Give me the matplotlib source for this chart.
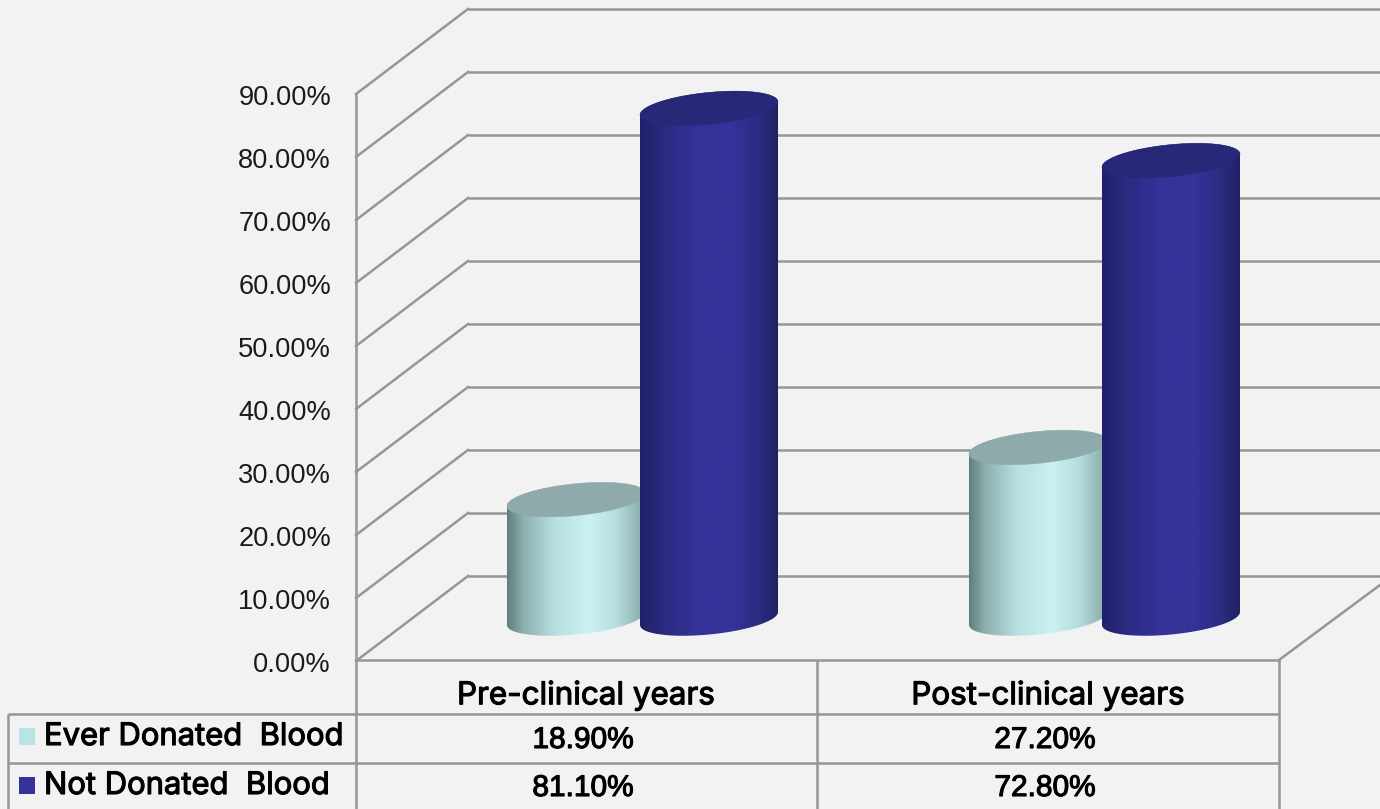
import numpy as np
import matplotlib
matplotlib.use("Agg")
import matplotlib.pyplot as plt
import matplotlib.patheffects as pe
from matplotlib.colors import LinearSegmentedColormap
from matplotlib.patches import Polygon

plt.rcParams['font.family'] = ['Liberation Sans', 'DejaVu Sans']

categories = ["Pre-clinical years", "Post-clinical years"]
series_names = ["Ever Donated  Blood", "Not Donated  Blood"]
ever_donated = [18.9, 27.2]
not_donated = [81.1, 72.8]
tick_values = [0, 10, 20, 30, 40, 50, 60, 70, 80, 90]

BG = "#f2f2f2"
LINE = "#969696"
W, H = 1380, 809
PX_PER_VAL = 6.29
BASE_Y = 618.5  # pixel row of value 0 at the cylinder base centre

fig = plt.figure(figsize=(W / 100, H / 100), dpi=100, facecolor=BG)

# pixel axes for walls, table and text
ax = fig.add_axes([0, 0, 1, 1], zorder=1)
ax.set_xlim(0, W)
ax.set_ylim(H, 0)
ax.axis("off")

# value axes for cylinders: y in data percent
bx = fig.add_axes([0, 0, 1, 1], zorder=2)
bx.set_xlim(0, W)
bx.set_ylim((BASE_Y - H) / PX_PER_VAL, BASE_Y / PX_PER_VAL)
bx.axis("off")
bx.patch.set_alpha(0)

# walls
lw = 1.8
back_x, side_x = 468, 356
back0, side0, step = 576, 660, 63
for v in tick_values:
    d = v / 10 * step
    ax.plot([back_x, W], [back0 - d, back0 - d], color=LINE, lw=lw, solid_capstyle="butt")
    ax.plot([side_x, back_x], [side0 - d + 1, back0 - d], color=LINE, lw=lw)
    ax.text(331, side0 - d + 5, f"{v:.2f}%", ha="right", va="center", fontsize=19.6, color="#1a1a1a")
ax.plot([side_x, side_x], [side0 - 90 / 10 * step + 1, H], color=LINE, lw=lw, solid_capstyle="butt")
ax.plot([side_x, 1279], [660, 660], color=LINE, lw=lw)
ax.plot([1279, W], [660, 585], color=LINE, lw=lw)

# data table
for x in (817, 1279):
    ax.plot([x, x], [660, H], color=LINE, lw=lw, solid_capstyle="butt")
ax.plot([8, 8], [714, H], color=LINE, lw=lw, solid_capstyle="butt")
for y in (714, 763):
    ax.plot([8, 1279], [y, y], color=LINE, lw=lw, solid_capstyle="butt")

stroke = [pe.withStroke(linewidth=0.8, foreground="black")]
label_font = ['Inter', 'Liberation Sans']
cell_x = [586, 1048]
for cx, cat, a, b in zip(cell_x, categories, ever_donated, not_donated):
    ax.text(cx, 696, cat, ha="center", va="center", fontsize=22.6, color="black",
            family=label_font, path_effects=stroke)
    ax.text(cx - 3, 740, f"{a:.2f}%", ha="center", va="center", fontsize=21.5, color="black", path_effects=stroke)
    ax.text(cx - 3, 788, f"{b:.2f}%", ha="center", va="center", fontsize=21.5, color="black", path_effects=stroke)
ax.text(44, 737, series_names[0], ha="left", va="center", fontsize=22.3, color="black",
        family=label_font, path_effects=stroke)
ax.text(44, 786, series_names[1], ha="left", va="center", fontsize=22.3, color="black",
        family=label_font, path_effects=stroke)
ax.add_patch(Polygon([(19, 728), (35, 728), (35, 745), (19, 745)], color="#b9e3e6", lw=0))
ax.add_patch(Polygon([(19, 777), (35, 777), (35, 794), (19, 794)], color="#333399", lw=0))

# cylinders
light_cmap = LinearSegmentedColormap.from_list("l", [
    (0, "#5f7f7f"), (0.12, "#8fb0b0"), (0.35, "#b8e0e2"), (0.6, "#caf2f4"), (0.8, "#b5dcde"), (1, "#88a8a8")])
dark_cmap = LinearSegmentedColormap.from_list("d", [
    (0, "#20206a"), (0.18, "#2b2b82"), (0.4, "#333399"), (0.68, "#333399"), (0.87, "#2b2b80"), (1, "#212165")])


def cylinder(cx, value, cmap, top_color, z):
    a = 69.0
    tilt = 6.5 / PX_PER_VAL
    b = 16.0 / PX_PER_VAL
    t = np.linspace(0, 2 * np.pi, 181)
    ex = cx + a * np.cos(t)
    ey = b * np.sin(t) + tilt * np.cos(t)
    # body outline: lower half of the base, then up and across the top
    lower = (t >= np.pi) & (t <= 2 * np.pi)
    upper = t <= np.pi
    body_x = np.r_[ex[lower], ex[upper]]
    body_y = np.r_[ey[lower], ey[upper] + value]
    clip = Polygon(np.c_[body_x, body_y], closed=True, transform=bx.transData, fc="none", ec="none")
    bx.add_patch(clip)
    grad = np.linspace(0, 1, 256).reshape(1, -1)
    im = bx.imshow(grad, cmap=cmap, vmin=0, vmax=1, aspect="auto", interpolation="bilinear",
                   extent=[cx - a, cx + a, -4, value + 4], zorder=z)
    im.set_clip_path(clip)
    bx.add_patch(Polygon(np.c_[ex, ey + value], closed=True, fc=top_color, ec=top_color, lw=0.3, zorder=z + 0.5))


centers = [(576, 709), (1038, 1171)]
for (c1, c2), v1, v2 in zip(centers, ever_donated, not_donated):
    cylinder(c1, v1, light_cmap, "#8eaaab", 3)
    cylinder(c2, v2, dark_cmap, "#282878", 4)
bx.set_xlim(0, W)
bx.set_ylim((BASE_Y - H) / PX_PER_VAL, BASE_Y / PX_PER_VAL)

fig.savefig("out.png", dpi=100, facecolor=BG)
